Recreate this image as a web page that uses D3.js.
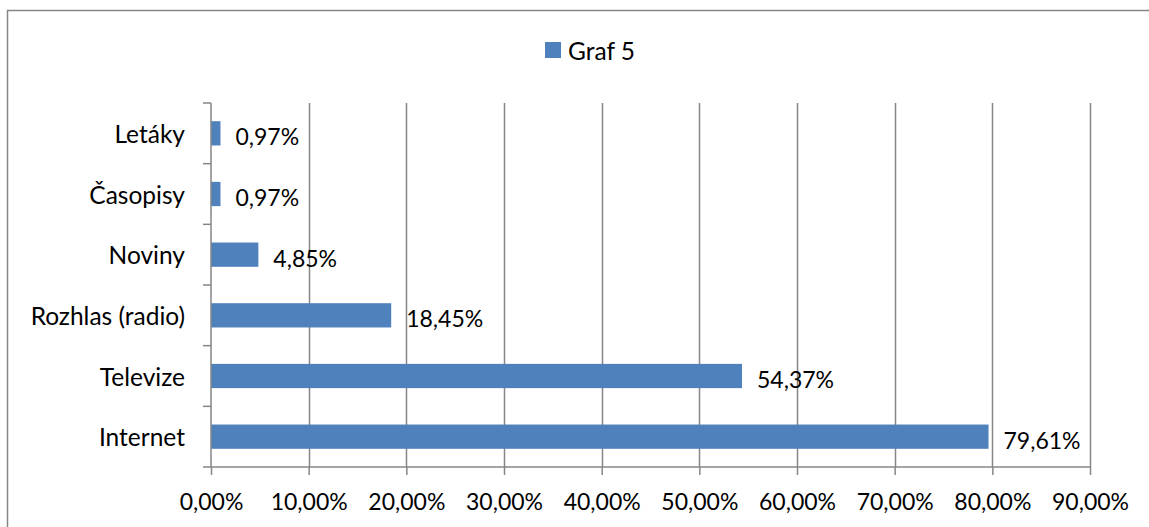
<!DOCTYPE html>
<html>
<head>
<meta charset="utf-8">
<script src="https://cdn.jsdelivr.net/npm/d3@7"></script>
<style>
  html, body { margin: 0; padding: 0; background: #fff; }
  svg { display: block; font-family: Lato, "Open Sans", sans-serif; }
</style>
</head>
<body>
<svg id="chart" width="1149" height="527"></svg>
<script>
// categories from top to bottom, as drawn
const categories = ['Letáky', 'Časopisy', 'Noviny', 'Rozhlas (radio)', 'Televize', 'Internet'];
const values = [0.97, 0.97, 4.85, 18.45, 54.37, 79.61];
const ticks = [0, 10, 20, 30, 40, 50, 60, 70, 80, 90];
const seriesName = 'Graf 5';

const width = 1149, height = 527;
const barColor = '#4f81bd';
const lineColor = '#868686';
const fmt = v => v.toFixed(2).replace('.', ',') + '%';
const labelSize = 24.5;
const numSize = 23;

const svg = d3.select('#chart');

// outer frame of the chart (right and bottom edges run off the picture)
svg.append('rect')
  .attr('x', 7.5).attr('y', 10.5)
  .attr('width', 1160).attr('height', 540)
  .attr('fill', 'none')
  .attr('stroke', lineColor)
  .attr('stroke-width', 1.5);

const x = d3.scaleLinear([0, 90], [211, 1090]);
const y = d3.scaleBand(categories, [103, 467]).paddingInner(0.6).paddingOuter(0.3);

/*
Gridlines
*/
svg.append('g')
  .selectAll('line')
  .data(ticks.slice(1))
  .join('line')
    .attr('x1', d => Math.round(x(d)) + 0.5)
    .attr('x2', d => Math.round(x(d)) + 0.5)
    .attr('y1', 103)
    .attr('y2', 467)
    .attr('stroke', lineColor)
    .attr('stroke-width', 1.5);

/*
Bars and their labels
*/
const rows = categories.map((c, i) => ({ key: c, value: values[i] }));

svg.append('g')
  .selectAll('rect')
  .data(rows)
  .join('rect')
    .attr('x', x(0))
    .attr('y', d => y(d.key))
    .attr('width', d => x(d.value) - x(0))
    .attr('height', y.bandwidth())
    .attr('fill', barColor);

svg.append('g')
  .selectAll('text')
  .data(rows)
  .join('text')
    .attr('x', d => x(d.value) + 15)
    .attr('y', d => y(d.key) + y.bandwidth() / 2 + 3)
    .attr('dominant-baseline', 'central')
    .attr('font-size', numSize)
    .attr('fill', '#000')
    .text(d => fmt(d.value));

/*
Axes
*/
const xAxis = svg.append('g')
  .attr('transform', 'translate(0,467)')
  .call(d3.axisBottom(x).tickValues(ticks).tickSize(8).tickPadding(19).tickFormat(fmt));
xAxis.select('.domain').attr('stroke', lineColor).attr('stroke-width', 1.5).attr('d', `M${x(0)},0H${x(90)}`);
xAxis.selectAll('.tick line').attr('stroke', lineColor).attr('stroke-width', 1.5);
xAxis.selectAll('text').attr('font-size', numSize).attr('fill', '#000').attr('font-family', 'Lato, sans-serif');

const yBoundaries = d3.range(categories.length + 1).map(i => 103 + i * (467 - 103) / categories.length);
const yAxis = svg.append('g');
yAxis.append('line')
  .attr('x1', x(0)).attr('x2', x(0))
  .attr('y1', 103).attr('y2', 467)
  .attr('stroke', lineColor).attr('stroke-width', 1.5);
yAxis.selectAll('line.tick')
  .data(yBoundaries)
  .join('line')
    .attr('class', 'tick')
    .attr('x1', x(0) - 8).attr('x2', x(0))
    .attr('y1', d => d).attr('y2', d => d)
    .attr('stroke', lineColor).attr('stroke-width', 1.5);
yAxis.selectAll('text')
  .data(categories)
  .join('text')
    .attr('x', 185)
    .attr('y', d => y(d) + y.bandwidth() / 2)
    .attr('dominant-baseline', 'central')
    .attr('text-anchor', 'end')
    .attr('font-size', labelSize)
    .attr('fill', '#000')
    .text(d => d);

/*
Legend
*/
const legend = svg.append('g').attr('transform', 'translate(545,42)');
legend.append('rect')
  .attr('width', 16).attr('height', 16)
  .attr('fill', barColor);
legend.append('text')
  .attr('x', 23).attr('y', 8)
  .attr('dominant-baseline', 'central')
  .attr('font-size', labelSize)
  .attr('fill', '#000')
  .text(seriesName);
</script>
</body>
</html>
